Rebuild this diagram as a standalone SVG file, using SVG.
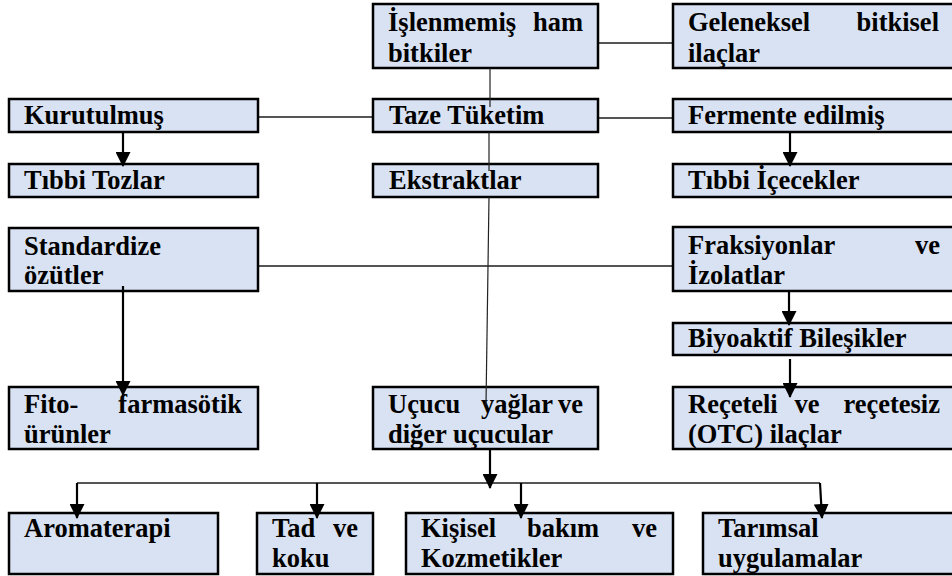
<svg xmlns="http://www.w3.org/2000/svg" width="952" height="576" viewBox="0 0 952 576">
<style>
.box{fill:#D9E2F3;stroke:#000;stroke-width:2.5}
.t{font-weight:bold;font-size:26.5px;fill:#000}
.ln{stroke:#555;stroke-width:2;fill:none}
.thin{stroke:#222;stroke-width:1.2;fill:none}
.ar{stroke:#000;stroke-width:2.2;fill:none;marker-end:url(#ah)}
</style>
<defs>
<marker id="ah" markerUnits="userSpaceOnUse" markerWidth="15" markerHeight="15" viewBox="0 0 15 15" refX="14" refY="7.5" orient="auto">
<path d="M0,0 L15,7.5 L0,15 z" fill="#000"/>
</marker>
</defs>
<g id="connectors">
<line class="ln" x1="598" y1="43" x2="673" y2="43"/>
<line class="ln" x1="258" y1="117" x2="373" y2="117"/>
<line class="ln" x1="598" y1="118" x2="673" y2="118"/>
<line class="ln" x1="258" y1="266" x2="673" y2="266"/>
<line class="ln" x1="77" y1="483" x2="820" y2="483"/>
</g>
<g font-family="'Liberation Serif', 'Times New Roman', serif">
<g id="n1"><rect class="box" x="373" y="4" width="225" height="64"/><text class="t" y="31"><tspan x="388">İşlenmemiş</tspan><tspan x="583" text-anchor="end">ham</tspan></text><text class="t" x="388" y="62">bitkiler</text></g>
<g id="n2"><rect class="box" x="673" y="4" width="290" height="64"/><text class="t" y="31"><tspan x="688">Geleneksel</tspan><tspan x="939" text-anchor="end">bitkisel</tspan></text><text class="t" x="688" y="62">ilaçlar</text></g>
<g id="n3"><rect class="box" x="9" y="99" width="249" height="33"/><text class="t" x="24" y="124">Kurutulmuş</text></g>
<g id="n4"><rect class="box" x="373" y="99" width="225" height="33"/><text class="t" x="389" y="124">Taze Tüketim</text></g>
<g id="n5"><rect class="box" x="673" y="99" width="290" height="33"/><text class="t" x="688" y="124">Fermente edilmiş</text></g>
<g id="n6"><rect class="box" x="9" y="164" width="249" height="33"/><text class="t" x="24" y="189">Tıbbi Tozlar</text></g>
<g id="n7"><rect class="box" x="373" y="164" width="225" height="33"/><text class="t" x="389" y="189">Ekstraktlar</text></g>
<g id="n8"><rect class="box" x="673" y="164" width="290" height="33"/><text class="t" x="688" y="189">Tıbbi İçecekler</text></g>
<g id="n9"><rect class="box" x="9" y="228" width="249" height="63"/><text class="t" x="24" y="255">Standardize</text><text class="t" x="24" y="284">özütler</text></g>
<g id="n10"><rect class="box" x="673" y="227" width="290" height="64"/><text class="t" y="254"><tspan x="688">Fraksiyonlar</tspan><tspan x="940" text-anchor="end">ve</tspan></text><text class="t" x="688" y="284">İzolatlar</text></g>
<g id="n11"><rect class="box" x="673" y="323" width="290" height="32"/><text class="t" x="688" y="347">Biyoaktif Bileşikler</text></g>
<g id="n12"><rect class="box" x="9" y="387" width="249" height="62"/><text class="t" y="413"><tspan x="24">Fito-</tspan><tspan x="242" text-anchor="end">farmasötik</tspan></text><text class="t" x="24" y="443">ürünler</text></g>
<g id="n13"><rect class="box" x="373" y="387" width="225" height="62"/><text class="t" y="413"><tspan x="388">Uçucu</tspan><tspan x="553" text-anchor="end">yağlar</tspan><tspan x="583" text-anchor="end">ve</tspan></text><text class="t" x="388" y="443">diğer uçucular</text></g>
<g id="n14"><rect class="box" x="673" y="387" width="290" height="62"/><text class="t" y="413"><tspan x="688">Reçeteli</tspan><tspan x="807" text-anchor="middle">ve</tspan><tspan x="940" text-anchor="end">reçetesiz</tspan></text><text class="t" x="688" y="443">(OTC) ilaçlar</text></g>
<g id="n15"><rect class="box" x="9" y="513" width="209" height="61"/><text class="t" x="24" y="537">Aromaterapi</text></g>
<g id="n16"><rect class="box" x="257" y="513" width="116" height="61"/><text class="t" y="537"><tspan x="272">Tad</tspan><tspan x="358" text-anchor="end">ve</tspan></text><text class="t" x="272" y="567">koku</text></g>
<g id="n17"><rect class="box" x="406" y="513" width="267" height="61"/><text class="t" y="537"><tspan x="421">Kişisel</tspan><tspan x="563" text-anchor="middle">bakım</tspan><tspan x="657" text-anchor="end">ve</tspan></text><text class="t" x="421" y="567">Kozmetikler</text></g>
<g id="n18"><rect class="box" x="703" y="513" width="260" height="61"/><text class="t" x="718" y="537">Tarımsal</text><text class="t" x="718" y="567">uygulamalar</text></g>
</g>
<g id="arrows">
<line class="thin" x1="490" y1="68" x2="490" y2="107"/>
<line class="thin" x1="489" y1="132" x2="489" y2="171"/>
<line class="thin" x1="489" y1="197" x2="486" y2="405"/>
<line class="ar" x1="123" y1="132" x2="123" y2="166"/>
<line class="ar" x1="790" y1="132" x2="790" y2="166"/>
<line class="ar" x1="123" y1="286" x2="123" y2="395"/>
<line class="ar" x1="789" y1="291" x2="789" y2="325"/>
<line class="ar" x1="790" y1="359" x2="790" y2="397"/>
<line class="ar" x1="490" y1="449" x2="490" y2="488"/>
<line class="ar" x1="77" y1="483" x2="77" y2="518"/>
<line class="ar" x1="317" y1="483" x2="317" y2="518"/>
<line class="ar" x1="521" y1="483" x2="521" y2="518"/>
<line class="ar" x1="820" y1="483" x2="822" y2="518"/>
</g>
</svg>
